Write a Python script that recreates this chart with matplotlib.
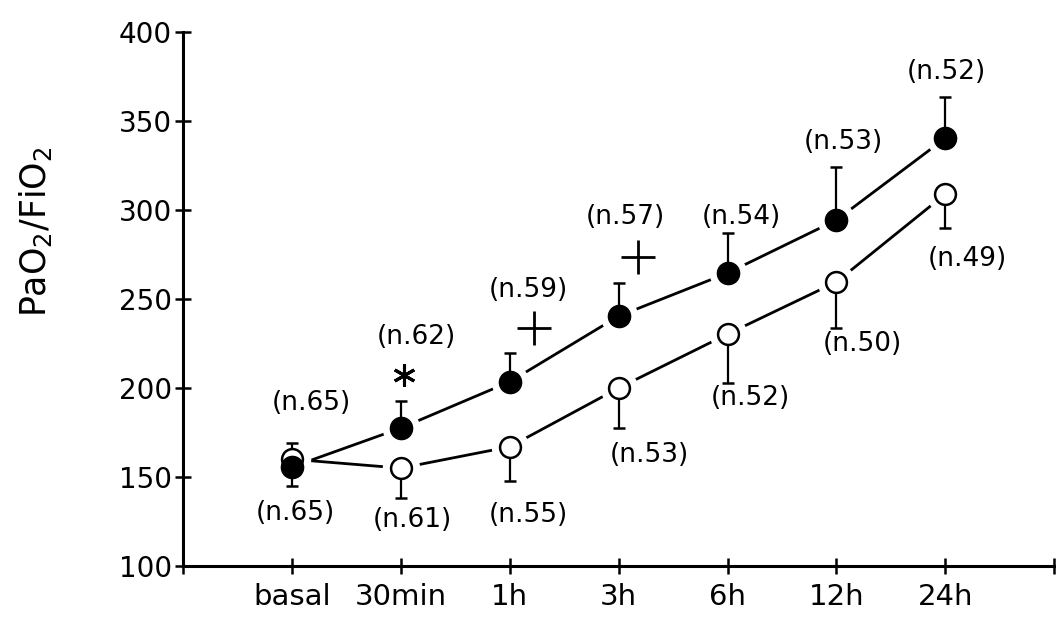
import numpy as np
import matplotlib
matplotlib.use("Agg")
import matplotlib.pyplot as plt

# data
times = ["basal", "30min", "1h", "3h", "6h", "12h", "24h"]
filled_mean = [155.6, 177.5, 203.5, 240.4, 264.6, 294.4, 340.4]
filled_up = [0, 15.4, 16.2, 18.6, 22.4, 29.6, 23.1]
filled_down = [10.6, 0, 0, 0, 0, 0, 0]
open_mean = [160.0, 155.0, 167.0, 200.0, 230.3, 259.6, 309.0]
open_up = [9.0, 0, 0, 0, 0, 0, 0]
open_down = [0, 16.8, 19.0, 22.5, 27.5, 25.6, 19.0]
filled_n = ["65", "62", "59", "57", "54", "53", "52"]
open_n = ["65", "61", "55", "53", "52", "50", "49"]

# label placement (data coords)
filled_lab_xy = [(1.18, 191.6), (2.14, 228.7), (3.17, 255.0), (4.06, 296.0),
                 (5.13, 296.0), (6.06, 338.0), (7.01, 377.5)]
open_lab_xy = [(1.03, 129.8), (2.11, 125.8), (3.17, 128.7), (4.28, 162.4),
               (5.21, 194.4), (6.24, 224.7), (7.2, 272.5)]

x = np.arange(1, len(times) + 1)

fig = plt.figure(figsize=(10.56, 6.3), dpi=100)
ax = fig.add_axes([0.1733, 0.1016, 0.825, 0.8474])

# connecting lines, with white halos around the markers
ax.plot(x, filled_mean, color="black", lw=2.0, zorder=1)
ax.plot(x, open_mean, color="black", lw=2.0, zorder=1)
ax.plot(x, filled_mean, "o", ms=27, color="white", mec="none", zorder=2)
ax.plot(x, open_mean, "o", ms=27, color="white", mec="none", zorder=2)

ax.errorbar(x, filled_mean, yerr=[filled_down, filled_up], fmt="none",
            ecolor="black", elinewidth=1.6, capsize=4.5, capthick=1.8, zorder=3)
ax.errorbar(x, open_mean, yerr=[open_down, open_up], fmt="none",
            ecolor="black", elinewidth=1.6, capsize=4.5, capthick=1.8, zorder=3)

ax.plot(x, open_mean, "o", ms=15, mfc="white", mec="black", mew=1.8, zorder=4)
ax.plot(x, filled_mean, "o", ms=16, mfc="black", mec="black", mew=1, zorder=5)

for (lx, ly), n in zip(filled_lab_xy, filled_n):
    ax.text(lx, ly, f"(n.{n})", ha="center", va="center", fontsize=19, zorder=6)
for (lx, ly), n in zip(open_lab_xy, open_n):
    ax.text(lx, ly, f"(n.{n})", ha="center", va="center", fontsize=19, zorder=6)

# significance symbols
ax.plot([2.03], [207.3], marker=(6, 2, 0), ms=16, mew=2.2, color="black", zorder=6)
ax.plot([3.22, 4.18], [233.7, 273.6], "+", ms=24, mew=2.0, color="black", zorder=6)

ax.set_xlim(0, 8)
ax.set_ylim(100, 400)
ax.set_xticks(np.arange(0, 9))
ax.set_xticklabels([""] + times + [""], fontsize=21)
ax.set_yticks(np.arange(100, 401, 50))
ax.tick_params(axis="y", labelsize=20, direction="inout", length=12, width=1.8, pad=2)
ax.tick_params(axis="x", direction="inout", length=12, width=1.8, pad=6)

for s in ["top", "right"]:
    ax.spines[s].set_visible(False)
for s in ["left", "bottom"]:
    ax.spines[s].set_linewidth(2.2)

ax.set_ylabel("PaO$_2$/FiO$_2$", fontsize=25)
ax.yaxis.set_label_coords(-0.148, 0.627)

fig.savefig("out.png", dpi=100)
